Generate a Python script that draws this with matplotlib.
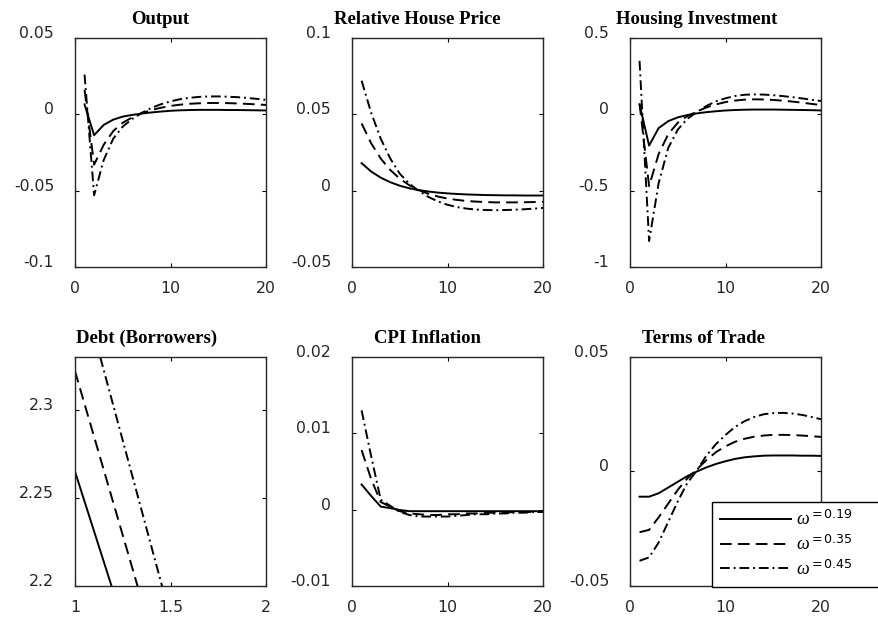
import matplotlib
matplotlib.use('Agg')
import matplotlib.pyplot as plt
import numpy as np
from matplotlib.ticker import FuncFormatter

plt.rcParams['font.family'] = ['DejaVu Sans']
plt.rcParams['mathtext.fontset'] = 'custom'
plt.rcParams['mathtext.rm'] = 'DejaVu Sans'
plt.rcParams['mathtext.it'] = 'Liberation Serif:italic'
plt.rcParams['axes.unicode_minus'] = False

periods = np.arange(1, 21)
debt_periods = np.array([1, 2])
omegas = ['0.19', '0.35', '0.45']

output = [
    [0.0065, -0.0137, -0.007, -0.0035, -0.0015, -0.0004, 0.0005, 0.0012, 0.0018, 0.0023,
     0.0026, 0.0028, 0.0029, 0.0029, 0.0029, 0.0028, 0.0028, 0.0027, 0.0026, 0.0025],
    [0.016, -0.033, -0.020, -0.011, -0.0055, -0.002, 0.0008, 0.0028, 0.0043, 0.0055,
     0.0063, 0.0069, 0.0072, 0.0074, 0.0074, 0.0073, 0.0071, 0.0068, 0.0065, 0.0061],
    [0.026, -0.053, -0.030, -0.016, -0.008, -0.003, 0.001, 0.0042, 0.0066, 0.0085,
     0.0099, 0.0108, 0.0114, 0.0117, 0.0117, 0.0115, 0.0112, 0.0107, 0.0101, 0.0094],
]
house_price = [
    [0.018, 0.0125, 0.0085, 0.0055, 0.0032, 0.0015, 0.0003, -0.0006, -0.0013, -0.0018,
     -0.0022, -0.0025, -0.0027, -0.0029, -0.003, -0.0031, -0.0031, -0.0032, -0.0032, -0.0032],
    [0.044, 0.031, 0.021, 0.0135, 0.0078, 0.0035, 0.0003, -0.0021, -0.0039, -0.0052,
     -0.0061, -0.0068, -0.0072, -0.0075, -0.0077, -0.0077, -0.0077, -0.0076, -0.0075, -0.0073],
    [0.072, 0.051, 0.034, 0.021, 0.011, 0.0045, -0.0003, -0.0042, -0.0071, -0.0093,
     -0.0108, -0.0118, -0.0124, -0.0127, -0.0128, -0.0127, -0.0125, -0.0122, -0.0118, -0.0113],
]
housing_inv = [
    [0.065, -0.205, -0.09, -0.045, -0.02, -0.005, 0.006, 0.014, 0.02, 0.025,
     0.028, 0.03, 0.031, 0.031, 0.031, 0.03, 0.029, 0.028, 0.027, 0.025],
    [0.07, -0.47, -0.26, -0.13, -0.055, -0.012, 0.018, 0.045, 0.065, 0.08,
     0.09, 0.096, 0.098, 0.097, 0.094, 0.089, 0.083, 0.076, 0.068, 0.06],
    [0.35, -0.83, -0.45, -0.22, -0.1, -0.03, 0.015, 0.055, 0.085, 0.105,
     0.12, 0.128, 0.13, 0.129, 0.125, 0.119, 0.112, 0.104, 0.095, 0.087],
]
debt = [
    [2.265, 1.925],
    [2.322, 1.949],
    [2.383, 1.981],
]
cpi = [
    [0.0033, 0.0018, 0.0004, 0.0002, -0.00005, -0.0002, -0.0002, -0.0002, -0.0002, -0.0002,
     -0.0002, -0.0002, -0.0002, -0.0002, -0.0002, -0.0002, -0.0002, -0.0002, -0.0002, -0.0002],
    [0.0078, 0.004, 0.001, 0.0004, -0.0002, -0.0005, -0.0006, -0.0007, -0.0007, -0.0006,
     -0.0006, -0.0005, -0.0005, -0.0004, -0.0004, -0.0004, -0.0003, -0.0003, -0.0003, -0.0003],
    [0.013, 0.007, 0.0013, 0.0005, -0.0003, -0.0007, -0.0009, -0.0009, -0.0009, -0.0009,
     -0.0008, -0.0007, -0.0006, -0.0006, -0.0005, -0.0005, -0.0004, -0.0004, -0.0003, -0.0003],
]
tot = [
    [-0.011, -0.011, -0.0095, -0.007, -0.0045, -0.002, 0.0, 0.0018, 0.0033, 0.0045,
     0.0055, 0.0062, 0.0066, 0.0069, 0.007, 0.007, 0.007, 0.0069, 0.0069, 0.0068],
    [-0.0265, -0.0255, -0.02, -0.014, -0.008, -0.003, 0.001, 0.005, 0.0085, 0.011,
     0.013, 0.0143, 0.0152, 0.0157, 0.016, 0.016, 0.0159, 0.0157, 0.0154, 0.0151],
    [-0.039, -0.0375, -0.031, -0.022, -0.013, -0.005, 0.0005, 0.007, 0.012, 0.016,
     0.0195, 0.022, 0.0238, 0.025, 0.0255, 0.0256, 0.0253, 0.0247, 0.0238, 0.0228],
]

# title, x data, series, xlim, xticks, ylim, yticks, title x-centre
panels = [
    ('Output', periods, output, (0, 20), [0, 10, 20], (-0.1, 0.05), [-0.1, -0.05, 0, 0.05], 0.445),
    ('Relative House Price', periods, house_price, (0, 20), [0, 10, 20], (-0.05, 0.1), [-0.05, 0, 0.05, 0.1], 0.34),
    ('Housing Investment', periods, housing_inv, (0, 20), [0, 10, 20], (-1, 0.5), [-1, -0.5, 0, 0.5], 0.35),
    ('Debt (Borrowers)', debt_periods, debt, (1, 2), [1, 1.5, 2], (2.2, 2.33), [2.2, 2.25, 2.3], 0.372),
    ('CPI Inflation', periods, cpi, (0, 20), [0, 10, 20], (-0.01, 0.02), [-0.01, 0, 0.01, 0.02], 0.396),
    ('Terms of Trade', periods, tot, (0, 20), [0, 10, 20], (-0.05, 0.05), [-0.05, 0, 0.05], 0.385),
]

styles = [
    dict(linestyle='-'),
    dict(linestyle=(0, (6, 3.2))),
    dict(linestyle=(0, (5, 2, 1, 2))),
]

lefts = [0.0853, 0.4005, 0.7167]
bottoms = [0.5687, 0.0533]
w, h = 0.2176, 0.370

fmt = FuncFormatter(lambda v, p: '%g' % round(v, 6))

fig = plt.figure(figsize=(8.79, 6.19), dpi=100)
handles = []
for i, (title, xs, series, xl, xt, yl, yt, tx) in enumerate(panels):
    ax = fig.add_axes([lefts[i % 3], bottoms[i // 3], w, h])
    for s, st in zip(series, styles):
        ln, = ax.plot(xs, s, color='black', linewidth=1.4, **st)
        if i == 5:
            handles.append(ln)
    ax.set_xlim(*xl)
    ax.set_ylim(*yl)
    ax.set_xticks(xt)
    ax.set_yticks(yt)
    ax.xaxis.set_major_formatter(fmt)
    ax.yaxis.set_major_formatter(fmt)
    ax.tick_params(direction='in', top=True, right=True, length=3, width=0.8,
                   labelsize=11.3, labelcolor='#262626')
    ax.tick_params(axis='x', pad=10)
    ax.tick_params(axis='y', pad=15)
    for lab in ax.get_yticklabels():
        lab.set_verticalalignment('baseline')
    for sp in ax.spines.values():
        sp.set_linewidth(1.0)
        sp.set_color('#262626')
    ax.set_title(title, x=tx, pad=10, fontsize=13.5, fontweight='bold',
                 family=['Liberation Serif', 'DejaVu Serif'])

fig.legend(handles, [r'$\omega^{=%s}$' % o for o in omegas],
           loc='lower left', bbox_to_anchor=(0.810, 0.052, 0.20, 0.142),
           bbox_transform=fig.transFigure, mode='expand', fontsize=13,
           frameon=True, fancybox=False, edgecolor='black', framealpha=1,
           handlelength=3.9, borderaxespad=0, labelspacing=0.3,
           borderpad=0.45, handletextpad=0.3)

fig.savefig('out.png', dpi=100)
